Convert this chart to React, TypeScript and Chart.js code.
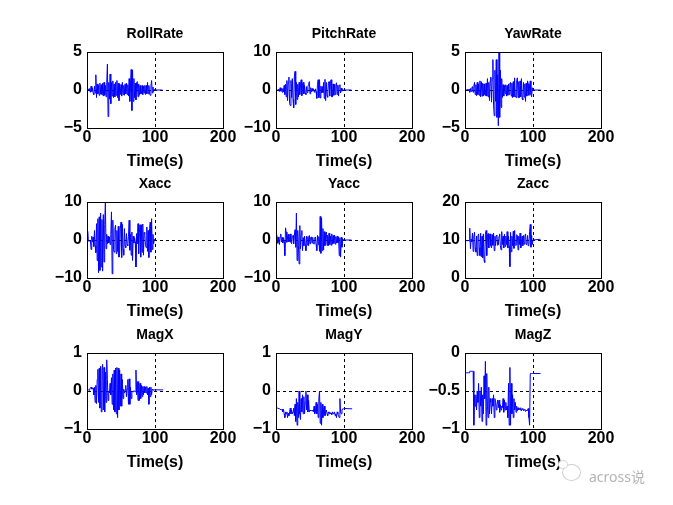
import React, { useEffect, useRef } from 'react';
import { Chart, registerables } from 'chart.js';

Chart.register(...registerables);

// ---------- DATA ----------
const time = [
  0, 1, 2, 3, 4, 5, 6, 7, 8, 9,
  10, 11, 12, 13, 14, 15, 16, 17, 18, 19,
  20, 21, 22, 23, 24, 25, 26, 27, 28, 29,
  30, 31, 32, 33, 34, 35, 36, 37, 38, 39,
  40, 41, 42, 43, 44, 45, 46, 47, 48, 49,
  50, 51, 52, 53, 54, 55, 56, 57, 58, 59,
  60, 61, 62, 63, 64, 65, 66, 67, 68, 69,
  70, 71, 72, 73, 74, 75, 76, 77, 78, 79,
  80, 81, 82, 83, 84, 85, 86, 87, 88, 89,
  90, 91, 92, 93, 94, 95, 96, 97, 98, 99,
  100,
];

const rollRate = [
  0.1, -0.1, 0.15, -0.1, 0.2, -0.3, 0.5, -0.2, 0.3, -0.4,
  -0.6, 0.5, -0.4, 2.0, -1.0, 0.8, -0.5, 0.6, -0.7, 0.9,
  -0.5, 0.7, -0.6, 0.9, -0.8, 1.0, -0.7, 0.6, -0.9, 1.0,
  3.4, -3.5, 1.0, -1.2, 2.1, -1.8, 1.0, -0.8, 1.2, -1.0,
  0.8, -0.9, 1.0, -0.7, 1.25, -1.0, 0.9, -1.4, 0.8, -0.6,
  0.7, -0.8, 1.0, -0.6, 0.6, -0.7, 0.8, -0.5, 0.9, -0.6,
  0.7, -0.8, 1.5, -1.5, 0.8, 2.7, -2.7, 2.6, -1.5, 1.5,
  -1.0, 0.9, -1.3, 1.0, 1.1, -0.9, 0.8, -0.7, 0.6, -0.5,
  -0.5, 0.6, -0.6, 0.5, -0.4, 0.6, -0.6, 0.6, -0.5, 1.0,
  -0.5, 0.6, -0.5, -0.7, 0.5, 1.25, -0.4, 0.4, -0.2, 0.1,
  0,
];

const pitchRate = [
  0, 0, 0, 0, 0.2, -0.4, 0.6, -0.3, 0.4, -0.6,
  0.4, -0.5, 1.2, -1.2, 1.5, -1.8, 2.5, -2.8, 2.0, 3.4,
  -3.5, -4.1, 2.5, -2.0, 3.0, -2.5, -4.7, 3.5, 4.9, -3.8,
  2.0, -2.5, 1.5, -1.8, 2.0, -1.2, 1.5, 2.7, -1.5, 1.2,
  2.0, -1.0, 1.2, -0.8, -1.2, 0.9, -0.7, 1.0, 1.5, 2.2,
  -1.0, 0.6, -0.5, 0.4, -0.3, 0.3, -0.4, -0.6, 0.3, -0.4,
  -2.2, 1.5, 2.7, -2.0, 2.7, -2.1, 1.0, -0.8, 0.9, -0.7,
  2.0, -2.2, 2.8, -2.8, 2.0, -1.5, -1.9, 1.8, 2.2, -1.6,
  1.7, 2.7, -1.8, -1.8, 1.6, -1.4, 1.5, -1.2, 1.3, 1.9,
  -1.2, 1.3, -1.6, 1.0, 1.4, -0.8, 0.5, -0.3, 0.1, 0,
  0,
];

const yawRate = [
  0, 0, 0.05, -0.05, 0.1, -0.1, 0.1, -0.3, 0.2, -0.2,
  0.3, 0.45, -0.3, 0.5, 1.0, -0.6, 0.7, -0.75, 1.0, -0.6,
  0.8, -0.7, 1.2, -0.9, 1.1, -0.8, 0.9, -0.8, 0.8, -0.6,
  -0.75, 0.9, -0.8, 1.5, -0.9, 1.0, -1.4, 1.2, 1.7, -1.6,
  1.5, 4.0, -2.0, -3.4, 2.6, -1.5, 4.0, -3.6, 2.0, -4.7,
  4.9, -3.6, 2.6, -2.3, 1.5, -1.0, 0.7, -0.8, 0.6, -0.5,
  0.7, -0.8, 0.6, -0.7, 0.8, -0.6, 0.9, 1.0, -0.8, 0.9,
  -1.0, 1.1, -0.9, 1.6, -0.8, -1.0, 1.2, 1.6, -1.0, 1.1,
  -1.0, 1.2, -0.9, 1.5, -1.1, -1.3, 1.0, -0.95, 0.8, -1.5,
  0.9, -0.8, 1.2, 0.8, -0.7, 0.6, 1.2, -0.6, -0.9, 0.3,
  0,
];

const xAcc = [
  0.5, 2.3, -0.3, -0.3, -0.3, -0.2, -2.5, 1.0, -0.5, 0.8,
  -1.7, 2.5, -1.5, -3.3, 4.3, -5.4, 5.6, -8.6, 6.1, -8.0,
  7.1, -7.1, 5.4, -8.2, 6.7, -5.8, 4.0, 10.0, -2.3, 1.5,
  -1.0, 1.0, -0.8, 0.8, -1.2, 1.5, 7.4, -8.9, 5.2, -2.5,
  -3.2, 3.0, 3.9, -3.6, 2.5, -3.0, 3.6, -4.5, -3.6, 3.0,
  4.7, -4.6, 4.1, -2.5, -4.0, 3.0, -1.5, -2.0, 1.7, -1.2,
  -1.5, 1.0, 5.2, -2.7, 1.5, -4.0, 2.1, -5.4, 1.0, -0.8,
  0.6, -0.5, -7.1, 1.7, -1.0, 4.3, -3.6, 2.0, 4.0, -4.5,
  4.0, -3.2, 4.2, -4.0, 2.0, 1.7, -1.5, -2.0, 3.4, -3.0,
  2.5, -4.6, 3.0, 4.7, -3.2, 5.6, -2.5, 1.5, -1.0, 0.2,
  0,
];

const yAcc = [
  0.5, 1.4, -0.9, 0.8, -0.6, -1.2, 0.9, 1.6, -0.5, 0.7,
  -0.8, 0.6, -0.4, -4.1, 3.2, 2.1, -0.6, 0.8, 1.5, -0.5,
  0.7, 1.6, -0.6, -1.0, 1.0, 1.2, -1.0, 1.3, 2.7, -1.9,
  7.1, -5.4, 2.5, -1.5, -6.3, 3.8, -2.3, 1.5, 2.5, -2.8,
  0.6, -1.5, 1.0, -1.2, -2.8, 1.0, -1.3, 0.9, -1.5, 1.2,
  -1.0, 0.7, 0.8, -0.8, 0.7, -1.0, -1.0, 0.6, 0.8, -1.2,
  -2.8, 1.2, -1.2, 0.9, -3.0, 6.2, -3.5, 5.8, -2.8, 3.0,
  -2.6, 2.2, -1.5, 1.5, 2.1, -1.4, 1.3, -1.5, 1.8, -1.2,
  1.0, -1.4, 1.6, -1.1, 1.2, -0.9, 1.3, -1.1, 0.9, -0.8,
  1.0, -0.7, 0.8, -4.1, 0.6, -4.5, 0.7, -1.9, 0.3, 0,
  0,
];

const zAcc = [
  9.8, 9.9, 9.7, 9.9, 9.8, 10.0, 9.7, 13.1, 7.7, 10.2,
  9.5, 11.8, 7.0, 10.8, 12.1, 8.0, 6.8, 11.0, 5.9, 11.0,
  11.6, 8.0, 5.9, 11.8, 5.6, 11.0, 5.3, 11.6, 4.6, 4.1,
  11.5, 12.5, 5.9, 11.0, 11.7, 7.9, 11.2, 11.6, 8.5, 7.9,
  11.4, 8.6, 11.8, 7.2, 11.0, 8.5, 11.2, 11.3, 8.6, 8.7,
  11.0, 11.6, 8.5, 7.4, 12.2, 8.8, 11.0, 7.9, 11.5, 8.3,
  11.0, 8.8, 12.2, 7.9, 11.0, 8.5, 3.0, 12.0, 6.9, 11.0,
  8.5, 12.3, 7.8, 12.5, 8.6, 8.7, 11.4, 11.2, 7.4, 11.0,
  8.8, 11.8, 7.9, 8.8, 11.0, 8.5, 11.2, 8.9, 11.0, 11.6,
  8.8, 9.0, 11.2, 8.5, 8.8, 12.3, 14.1, 8.1, 11.2, 8.8,
  10,
];

const magX = [
  0.02, 0.02, 0.03, 0.02, 0.05, 0.08, 0.1, 0.05, 0.07, 0.08,
  -0.1, 0.1, -0.3, 0.15, -0.33, 0.3, 0.57, -0.3, 0.6, -0.45,
  0.65, -0.55, 0.55, 0.7, -0.5, 0.62, -0.55, 0.5, -0.3, 0.82,
  0.3, -0.25, 0.0, -0.05, 0.2, -0.1, 0.35, -0.35, 0.45, -0.5,
  0.55, -0.55, 0.6, -0.6, 0.62, -0.7, 0.6, -0.5, 0.55, -0.4,
  0.45, -0.4, 0.3, -0.2, 0.05, -0.05, 0.02, 0.15, -0.15, 0.05,
  0.3, -0.35, 0.32, -0.35, 0.1, -0.2, -0.02, 0.0, -0.02, 0.01,
  0.0, -0.02, 0.55, -0.1, 0.25, -0.25, 0.25, -0.25, 0.2, -0.2,
  0.15, -0.15, 0.12, -0.1, 0.12, -0.05, 0.1, -0.05, 0.12, -0.1,
  0.08, -0.35, 0.1, -0.15, 0.1, -0.1, 0.05, 0.03, 0.02, 0.03,
  0.03,
];

const magY = [
  -0.45, -0.45, -0.45, -0.46, -0.45, -0.47, -0.48, -0.48, -0.5, -0.48,
  -0.55, -0.48, -0.6, -0.7, -0.55, -0.6, -0.55, -0.7, -0.58, -0.65,
  -0.55, -0.45, -0.6, -0.5, -0.6, -0.55, -0.45, -0.65, -0.35, -0.8,
  -0.2, -0.9, -0.3, -0.7, 0.0, -0.6, -0.75, -0.2, -0.55, -0.1,
  -0.6, -0.15, -0.6, -0.3, 0.0, -0.5, -0.1, -0.55, -0.25, -0.55,
  -0.5, -0.52, -0.52, -0.5, -0.52, -0.55, -0.4, -0.6, -0.55, -0.3,
  -0.6, -0.35, -0.7, -0.2, 0.0, -0.85, -0.3, -0.9, -0.35, -0.7,
  -0.5, -0.4, -0.65, -0.55, -0.5, -0.6, -0.65, -0.55, -0.6, -0.55,
  -0.6, -0.58, -0.62, -0.55, -0.6, -0.58, -0.55, -0.65, -0.6, -0.7,
  -0.55, -0.6, -0.65, -0.7, -0.2, -0.55, -0.6, -0.5, -0.47, -0.47,
  -0.46,
];

const magZ = [
  -0.26, -0.26, -0.26, -0.26, -0.26, -0.26, -0.26, -0.24, -0.24, -0.24,
  -0.24, -0.24, -0.24, -0.95, -0.55, -0.7, -0.55, -0.75, -0.5, -0.65,
  -0.4, -0.85, -0.5, -0.7, -0.45, -0.9, -0.55, -0.8, -0.3, -0.6,
  -0.11, -0.95, -0.27, -0.7, -0.85, -0.45, -0.8, -0.6, -0.65, -0.8,
  -0.6, -0.7, -0.55, -0.85, -0.6, -0.65, -0.75, -0.68, -0.62, -0.72,
  -0.62, -0.78, -0.68, -0.75, -0.7, -0.72, -0.6, -0.78, -0.62, -0.75,
  -0.65, -0.75, -0.7, -0.85, -0.4, -0.95, -0.19, -0.95, -0.4, -0.8,
  -0.55, -0.85, -0.6, -0.75, -0.65, -0.78, -0.7, -0.76, -0.72, -0.75,
  -0.73, -0.75, -0.72, -0.76, -0.74, -0.73, -0.76, -0.74, -0.75, -0.77,
  -0.75, -0.76, -0.75, -0.73, -0.85, -0.95, -0.27, -0.27, -0.27, -0.27,
  -0.27,
];

const titles = ['RollRate', 'PitchRate', 'YawRate', 'Xacc', 'Yacc', 'Zacc', 'MagX', 'MagY', 'MagZ'];
const seriesList = [rollRate, pitchRate, yawRate, xAcc, yAcc, zAcc, magX, magY, magZ];
const tailTimes = [111, 111, 111, 100, 111, 111, 112, 112, 111];
const tailValues = [0, 0, 0, 0, 0, 10.2, 0.03, -0.47, -0.27];
const xTicks = [0, 100, 200];
const yTicks = [
  [-5, 0, 5], [-10, 0, 10], [-5, 0, 5],
  [-10, 0, 10], [-10, 0, 10], [0, 10, 20],
  [-1, 0, 1], [-1, 0, 1], [-1, -0.5, 0],
];
const xLabel = 'Time(s)';
const watermark = 'across说';

// ---------- LAYOUT ----------
const FONT = "'Liberation Sans', Arial, sans-serif";
const colLefts = [87, 276, 465];
const rowTops = [52, 202, 353];
const PLOT_W = 136;
const PLOT_H = 76;
const SIDE_W = 50;
const TITLE_LH = 14;
const TITLE_PAD = 11;
const TITLE_H = TITLE_LH + TITLE_PAD;
const X_AXIS_H = 44;

const fmt = (v: number) => (v < 0 ? '\u2212' + String(-v) : String(v));

const boxPlugin = {
  id: 'matlabBox',
  afterDraw(chart: any) {
    const { ctx, chartArea } = chart;
    const l = Math.round(chartArea.left);
    const t = Math.round(chartArea.top);
    const r = Math.round(chartArea.right);
    const b = Math.round(chartArea.bottom);
    ctx.save();
    ctx.strokeStyle = '#000';
    ctx.lineWidth = 1;
    ctx.setLineDash([]);
    ctx.strokeRect(l + 0.5, t + 0.5, r - l, b - t);
    ctx.restore();
  },
};

function Subplot({ idx }: { idx: number }) {
  const ref = useRef<HTMLCanvasElement | null>(null);
  useEffect(() => {
    if (!ref.current) return;
    const yt = yTicks[idx];
    const vals = seriesList[idx];
    const pts: { x: number; y: number }[] = vals.map((v, i) => ({ x: time[i], y: v }));
    if (tailTimes[idx] > time[time.length - 1]) {
      pts.push({ x: tailTimes[idx], y: tailValues[idx] });
    }
    const chart = new Chart(ref.current, {
      type: 'line',
      data: {
        datasets: [
          {
            data: pts,
            borderColor: '#0000ff',
            borderWidth: 1,
            pointRadius: 0,
            fill: false,
            tension: 0,
            yAxisID: 'y',
          },
        ],
      },
      options: {
        animation: false,
        responsive: false,
        events: [],
        layout: { padding: 0 },
        plugins: {
          legend: { display: false },
          tooltip: { enabled: false },
          title: {
            display: true,
            text: titles[idx],
            color: '#000',
            font: { family: FONT, size: 14, weight: 'bold', lineHeight: TITLE_LH + 'px' } as any,
            padding: { top: 0, bottom: TITLE_PAD },
          },
        },
        scales: {
          x: {
            type: 'linear',
            min: xTicks[0],
            max: xTicks[xTicks.length - 1],
            afterFit: (s: any) => {
              s.height = X_AXIS_H;
            },
            afterBuildTicks: (s: any) => {
              s.ticks = xTicks.map((v) => ({ value: v }));
            },
            ticks: {
              font: { family: FONT, size: 16, weight: 'bold' },
              color: '#000',
              padding: 0,
              maxRotation: 0,
              autoSkip: false,
              callback: (v: any) => fmt(v),
            },
            grid: {
              color: (c: any) => (c.tick && c.tick.value === xTicks[1] ? '#000' : 'rgba(0,0,0,0)'),
              lineWidth: 1,
              drawTicks: false,
            },
            border: { display: true, color: '#000', dash: [3, 3] },
            title: {
              display: true,
              text: xLabel,
              color: '#000',
              font: { family: FONT, size: 16, weight: 'bold' },
              padding: { top: 0, bottom: 1 },
            },
          },
          y: {
            type: 'linear',
            position: 'left',
            min: yt[0],
            max: yt[2],
            afterFit: (s: any) => {
              s.width = SIDE_W;
            },
            afterBuildTicks: (s: any) => {
              s.ticks = yt.map((v) => ({ value: v }));
            },
            ticks: {
              font: { family: FONT, size: 16, weight: 'bold' },
              color: '#000',
              padding: 5,
              autoSkip: false,
              callback: (v: any) => fmt(v),
            },
            grid: {
              color: (c: any) => (c.tick && c.tick.value === yt[1] ? '#000' : 'rgba(0,0,0,0)'),
              lineWidth: 1,
              drawTicks: false,
            },
            border: { display: true, color: '#000', dash: [3, 3] },
          },
          yRight: {
            type: 'linear',
            position: 'right',
            display: true,
            min: yt[0],
            max: yt[2],
            afterFit: (s: any) => {
              s.width = SIDE_W;
            },
            ticks: { display: false },
            grid: { display: false, drawTicks: false },
            border: { display: false },
          },
        },
      } as any,
      plugins: [boxPlugin],
    });
    return () => chart.destroy();
  }, [idx]);

  const col = idx % 3;
  const row = Math.floor(idx / 3);
  const w = SIDE_W + PLOT_W + SIDE_W;
  const h = TITLE_H + PLOT_H + X_AXIS_H;
  return (
    <canvas
      ref={ref}
      width={w}
      height={h}
      style={{
        position: 'absolute',
        left: colLefts[col] - SIDE_W,
        top: rowTops[row] - TITLE_H,
        width: w,
        height: h,
      }}
    />
  );
}

export default function App() {
  return (
    <div
      style={{
        position: 'fixed',
        left: 0,
        top: 0,
        width: 673,
        height: 505,
        background: '#ffffff',
        overflow: 'hidden',
      }}
    >
      {titles.map((_, i) => (
        <Subplot key={i} idx={i} />
      ))}
      <div
        style={{
          position: 'absolute',
          left: 562,
          top: 464,
          width: 17,
          height: 15,
          border: '1px solid #cfcfcf',
          borderRadius: '50%',
        }}
      />
      <div
        style={{
          position: 'absolute',
          left: 558,
          top: 460,
          width: 8,
          height: 7,
          border: '1px solid #d8d8d8',
          borderRadius: '50%',
          background: '#fff',
        }}
      />
      <div
        style={{
          position: 'absolute',
          left: 589,
          top: 466,
          fontFamily: "'Noto Sans', 'Noto Sans CJK SC', sans-serif",
          fontSize: 14,
          color: '#b4b4b4',
          whiteSpace: 'nowrap',
        }}
      >
        {watermark}
      </div>
    </div>
  );
}
